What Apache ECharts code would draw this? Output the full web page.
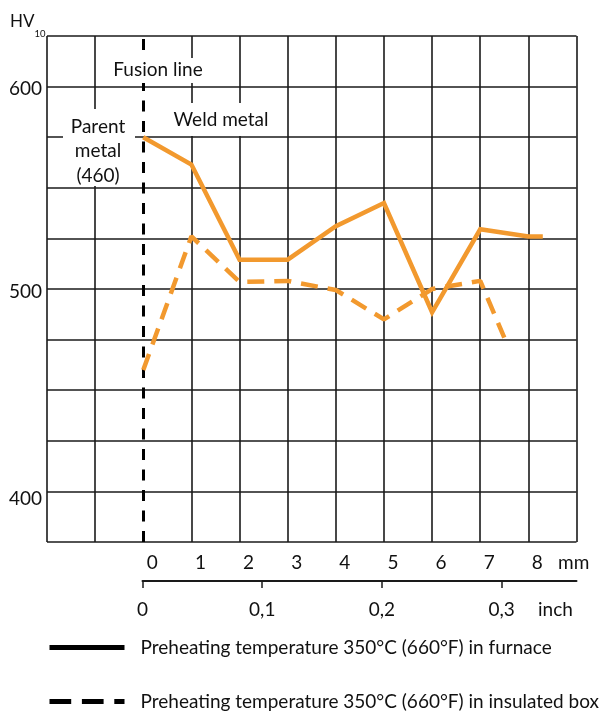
<!DOCTYPE html>
<html>
<head>
<meta charset="utf-8">
<script src="https://cdn.jsdelivr.net/npm/echarts@6/dist/echarts.min.js"></script>
<style>
  html, body { margin: 0; padding: 0; background: #fff; }
  #main { width: 601px; height: 711px; }
</style>
</head>
<body>
<div id="main"></div>
<script>
// distance from fusion line (mm) and hardness HV10
var furnaceMm = [0, 1, 2, 3, 4, 5, 6, 7, 8, 8.3];
var furnaceHV = [575, 561.5, 514.5, 514.5, 531, 542.5, 488.5, 529.5, 526, 526];
var boxMm = [0, 1, 2, 3, 4, 5, 6, 7, 7.5];
var boxHV = [460, 526, 503.5, 504, 499.5, 485, 500, 504, 476];

var mmLabels = [0, 1, 2, 3, 4, 5, 6, 7, 8];
var inchTicks = [0, 0.1, 0.2, 0.3];
var hvLabels = [400, 500, 600];

var seriesNames = [
    "Preheating temperature 350°C (660°F) in furnace",
    "Preheating temperature 350°C (660°F) in insulated box"
];

var FONT = "Lato";
var ORANGE = "#F2992E";
var GRID_COLOR = "#1a1a1a";

var chartDom = document.getElementById("main");
var myChart = echarts.init(chartDom);
var option;

function pairs(xs, ys) {
    var out = [];
    for (var i = 0; i < xs.length; i++) {
        out.push([xs[i], ys[i]]);
    }
    return out;
}

// no solid grid line at 0 mm: the fusion line is drawn there instead
var xLineColors = [];
for (var v = -2; v <= 9; v++) {
    xLineColors.push(v === 0 ? "rgba(0,0,0,0)" : GRID_COLOR);
}

option = {
    animation: false,
    backgroundColor: "#fff",
    textStyle: { fontFamily: FONT },
    grid: [
        { left: 47, right: 24.5, top: 36, height: 506, outerBoundsMode: "none" },
        // inch scale, starts at the fusion line (drawn a bit short in the original)
        { left: 142.5, right: 24.5, top: 580, height: 1, outerBoundsMode: "none" }
    ],
    xAxis: [
        {
            type: "value",
            gridIndex: 0,
            min: -2,
            max: 9,
            interval: 1,
            axisLine: { show: false, onZero: false },
            axisTick: { show: false },
            axisLabel: {
                margin: 11,
                color: "#111",
                fontSize: 19,
                fontFamily: FONT,
                padding: [0, 0, 0, 18],
                formatter: function (val) {
                    return mmLabels.indexOf(val) >= 0 ? String(val) : "";
                }
            },
            splitLine: {
                show: true,
                showMinLine: true,
                showMaxLine: true,
                lineStyle: { color: xLineColors, width: 1.6 }
            }
        },
        {
            type: "value",
            gridIndex: 1,
            position: "bottom",
            min: 0,
            max: 0.3625,
            axisLine: { show: true, onZero: false, lineStyle: { color: GRID_COLOR, width: 2 } },
            axisTick: {
                show: true,
                customValues: inchTicks,
                length: 7,
                lineStyle: { color: GRID_COLOR, width: 1.5 }
            },
            axisLabel: {
                customValues: inchTicks,
                margin: 19,
                color: "#111",
                fontSize: 19,
                fontFamily: FONT,
                formatter: function (val) {
                    return val === 0 ? "0" : val.toFixed(1).replace(".", ",");
                }
            },
            splitLine: { show: false }
        }
    ],
    yAxis: [
        {
            type: "value",
            gridIndex: 0,
            min: 375,
            max: 625,
            interval: 25,
            axisLine: { show: false, onZero: false },
            axisTick: { show: false },
            axisLabel: {
                margin: 5,
                fontSize: 19,
                fontFamily: FONT,
                color: "#111",
                formatter: function (val) {
                    if (hvLabels.indexOf(val) < 0) return "";
                    return val === 400 ? "{low|" + val + "}" : "{mid|" + val + "}";
                },
                rich: {
                    mid: { fontSize: 19, fontFamily: FONT, color: "#111", padding: [5, 0, 0, 0] },
                    low: { fontSize: 19, fontFamily: FONT, color: "#111", padding: [15, 0, 0, 0] }
                }
            },
            splitLine: {
                show: true,
                showMinLine: true,
                showMaxLine: true,
                lineStyle: { color: GRID_COLOR, width: 1.6 }
            }
        },
        {
            type: "value",
            gridIndex: 1,
            show: false
        }
    ],
    legend: {
        orient: "vertical",
        left: 47,
        top: 638,
        padding: 0,
        itemWidth: 75,
        itemHeight: 18,
        itemGap: 35,
        textStyle: {
            fontSize: 19,
            fontFamily: FONT,
            color: "#111",
            padding: [0, 0, 0, 11]
        },
        data: [
            {
                name: seriesNames[0],
                itemStyle: { color: "rgba(0,0,0,0)", borderColor: "rgba(0,0,0,0)", borderWidth: 0 },
                lineStyle: { color: "#000", width: 5, type: "solid" }
            },
            {
                name: seriesNames[1],
                itemStyle: { color: "rgba(0,0,0,0)", borderColor: "rgba(0,0,0,0)", borderWidth: 0 },
                lineStyle: { color: "#000", width: 5, type: [21.7, 10.7] }
            }
        ]
    },
    series: [
        {
            name: seriesNames[0],
            type: "line",
            xAxisIndex: 0,
            yAxisIndex: 0,
            symbol: "none",
            lineStyle: { color: ORANGE, width: 4.5, join: "miter" },
            itemStyle: { color: ORANGE },
            data: pairs(furnaceMm, furnaceHV),
            z: 3,
            // fusion line
            markLine: {
                silent: true,
                symbol: ["none", "none"],
                label: { show: false },
                lineStyle: { color: "#000", width: 3, type: [11, 9.5] },
                data: [{ xAxis: 0 }],
                z: 1
            }
        },
        {
            name: seriesNames[1],
            type: "line",
            xAxisIndex: 0,
            yAxisIndex: 0,
            symbol: "none",
            lineStyle: { color: ORANGE, width: 4.5, type: [17, 10] },
            itemStyle: { color: ORANGE },
            data: pairs(boxMm, boxHV),
            z: 3
        }
    ],
    graphic: [
        // y axis unit HV10
        { type: "text", x: 10, y: 21.5, z: 50, style: { text: "HV", font: "17px Lato", fill: "#111", verticalAlign: "middle" } },
        { type: "text", x: 34.5, y: 33.5, z: 50, style: { text: "10", font: "9.5px Lato", fill: "#111", verticalAlign: "middle" } },
        // "mm" and "inch" unit names
        { type: "text", left: 558, top: 553, z: 50, style: { text: "mm", font: "19px Lato", fill: "#111" } },
        { type: "text", left: 538, top: 600, z: 50, style: { text: "inch", font: "19px Lato", fill: "#111" } },
        // label boxes on the grid
        { type: "rect", shape: { x: 100, y: 58, width: 105, height: 25 }, style: { fill: "#fff" }, z: 50 },
        { type: "text", x: 158, y: 70, z: 51, style: { text: "Fusion line", font: "19px Lato", fill: "#111", align: "center", verticalAlign: "middle" } },
        { type: "rect", shape: { x: 146, y: 103, width: 141, height: 33 }, style: { fill: "#fff" }, z: 50 },
        { type: "text", x: 221, y: 120, z: 51, style: { text: "Weld metal", font: "19px Lato", fill: "#111", align: "center", verticalAlign: "middle" } },
        { type: "rect", shape: { x: 63, y: 109, width: 72, height: 77 }, style: { fill: "#fff" }, z: 50 },
        { type: "text", x: 98, y: 151, z: 51, style: { text: "Parent\nmetal\n(460)", font: "19px Lato", lineHeight: 24.5, fill: "#111", align: "center", verticalAlign: "middle" } }
    ]
};

option && myChart.setOption(option);
</script>
</body>
</html>
